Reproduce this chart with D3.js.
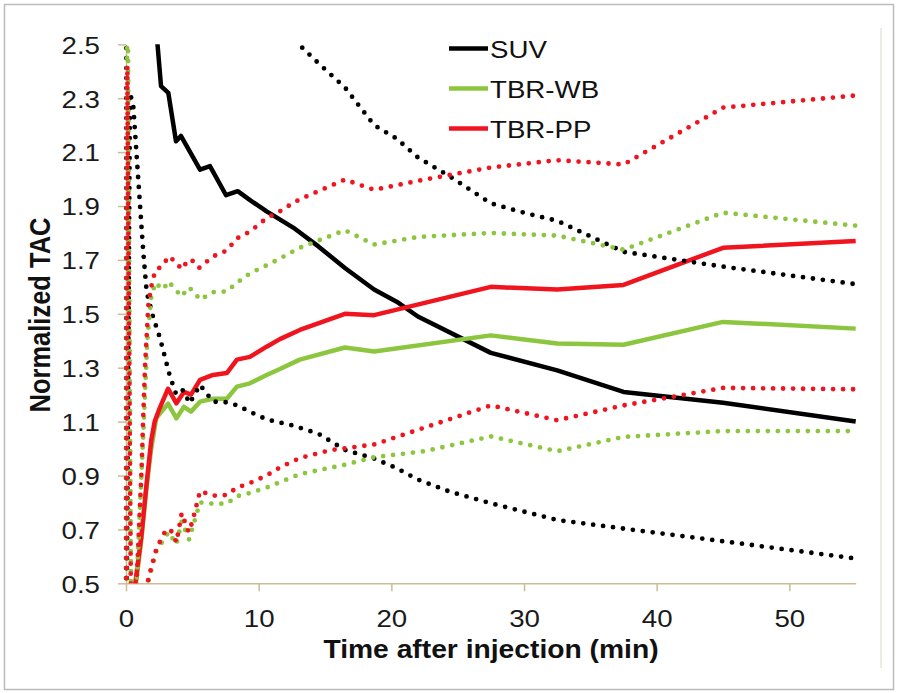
<!DOCTYPE html>
<html><head><meta charset="utf-8">
<script src="https://cdn.jsdelivr.net/npm/d3@7"></script>
<style>body{margin:0;background:#fff}</style>
</head><body><svg id="c" width="899" height="693"></svg>
<script>
// ---- data (time in min, normalized TAC) ----
const xTicks = [0, 10, 20, 30, 40, 50];
const yTicks = [0.5, 0.7, 0.9, 1.1, 1.3, 1.5, 1.7, 1.9, 2.1, 2.3, 2.5];
const legendLabels = ["SUV", "TBR-WB", "TBR-PP"];

const suvMean = [[0.17,9],[2.1,2.66],[2.64,2.345],[3.19,2.32],[3.77,2.14],[4.14,2.16],[5.58,2.035],[6.33,2.048],[7.54,1.94],[8.42,1.955],[9.4,1.92],[10.6,1.88],[12.6,1.82],[14.5,1.75],[16.5,1.67],[18.7,1.59],[20.4,1.545],[22,1.49],[27.5,1.355],[32.5,1.29],[37.5,1.21],[45,1.17],[55,1.10]];
const suvLower = [[0,0],[0.3,2.32],[0.55,2.27],[1.13,1.85],[1.3,1.73],[1.56,1.58],[2.03,1.49],[2.56,1.41],[3.3,1.27],[3.79,1.2],[4.3,1.217],[4.8,1.168],[5.58,1.236],[6.56,1.174],[7.5,1.172],[8.42,1.16],[9.4,1.135],[10.6,1.108],[12.6,1.085],[14.5,1.055],[16.5,0.995],[18.7,0.963],[20.4,0.927],[22,0.885],[24.4,0.84],[27.5,0.797],[32.5,0.735],[37.5,0.703],[45,0.656],[55,0.592]];
const suvUpper = [[0,0],[0.15,12],[2.64,3.2],[5.58,2.84],[8.42,2.72],[10.6,2.62],[12.6,2.52],[14.5,2.43],[16.5,2.34],[18.7,2.2],[20.4,2.15],[22,2.08],[24.4,2.01],[27.5,1.91],[30,1.875],[32.5,1.845],[37.5,1.73],[45,1.675],[55,1.61]];

const wbMean = [[0.3,0.2],[0.7,0.48],[1.15,0.66],[1.53,0.85],[1.9,1.0],[2.28,1.113],[3.17,1.167],[3.8,1.112],[4.37,1.155],[4.9,1.137],[5.58,1.174],[6.56,1.185],[7.6,1.185],[8.36,1.23],[9.34,1.242],[10.6,1.273],[11.6,1.295],[13.1,1.33],[16.5,1.375],[18.7,1.36],[27.5,1.42],[32.5,1.39],[37.5,1.385],[45,1.47],[55,1.445]];
const wbLower = [[0,0],[1.0,0.2],[1.7,0.51],[2.3,0.62],[3.2,0.69],[3.8,0.645],[4.2,0.73],[4.75,0.663],[5.58,0.80],[6.56,0.795],[7.6,0.796],[8.36,0.823],[9.34,0.835],[10.6,0.855],[11.6,0.875],[13.1,0.905],[16.5,0.94],[18.7,0.968],[22.5,0.99],[27.5,1.045],[32.5,0.99],[37.5,1.043],[45,1.065],[55,1.065]];
const wbUpper = [[0,0],[0.1,3.0],[0.4,0.2],[0.8,0.5],[1.3,1.05],[1.6,1.4],[1.9,1.56],[2.2,1.615],[2.8,1.59],[3.2,1.62],[3.72,1.59],[4.2,1.564],[4.7,1.598],[5.05,1.586],[5.58,1.552],[6.56,1.58],[7.6,1.583],[8.36,1.615],[9.34,1.65],[10.6,1.68],[11.6,1.705],[13.1,1.745],[16.5,1.81],[18.7,1.757],[22,1.785],[27.5,1.80],[32.5,1.79],[37.5,1.738],[45,1.875],[55,1.827]];

const ppMean = [[0.3,0.2],[0.7,0.5],[1.15,0.672],[1.53,0.858],[1.9,1.03],[2.16,1.1],[2.5,1.145],[3.17,1.222],[3.8,1.168],[4.37,1.21],[4.9,1.2],[5.58,1.255],[6.56,1.273],[7.6,1.28],[8.36,1.33],[9.34,1.34],[10.6,1.378],[11.6,1.406],[13.1,1.44],[16.5,1.50],[18.7,1.495],[27.5,1.60],[32.5,1.59],[37.5,1.607],[45,1.745],[55,1.77]];
const ppLower = [[0,0],[1.0,0.2],[1.68,0.517],[2.3,0.63],[3.0,0.697],[3.35,0.70],[3.8,0.652],[4.2,0.76],[4.72,0.69],[5.0,0.728],[5.58,0.842],[6.56,0.825],[7.6,0.828],[8.36,0.855],[9.34,0.872],[10.6,0.9],[11.6,0.93],[13.1,0.965],[15.4,0.994],[18.7,1.015],[27.5,1.16],[32.5,1.105],[37.5,1.16],[45,1.225],[55,1.22]];
const ppUpper = [[0,0],[0.1,2.42],[0.4,0.2],[0.8,0.5],[1.18,0.93],[1.3,1.12],[1.43,1.3],[1.68,1.53],[1.9,1.6],[2.2,1.66],[2.8,1.68],[3.2,1.713],[3.7,1.695],[4.2,1.665],[4.7,1.70],[4.95,1.70],[5.5,1.67],[6.56,1.713],[7.6,1.735],[8.36,1.78],[9.34,1.805],[10.6,1.855],[11.6,1.88],[12.4,1.905],[13.1,1.925],[16.5,1.998],[18.7,1.96],[22.5,1.998],[27.5,2.043],[32.5,2.07],[37.5,2.054],[45,2.265],[55,2.31]];

// ---- drawing ----
const BLACK = "#000000", GREEN = "#8cc63f", RED = "#f0141e";
const AXIS = "#c9bd95";
const SX = 1.13;
const FONT = "'Liberation Sans', Arial, sans-serif";

const svg = d3.select("#c");
svg.append("rect").attr("x",4.5).attr("y",4.5).attr("width",889).attr("height",685)
  .attr("fill","#fff").attr("stroke","#bcbcbc").attr("stroke-width",1.5);
svg.append("line").attr("x1",881).attr("x2",881).attr("y1",28).attr("y2",668)
  .attr("stroke","#e4e6d4").attr("stroke-width",1.5);

const x = d3.scaleLinear().domain([0,55]).range([126,855.7]);
const y = d3.scaleLinear().domain([0.5,2.5]).range([583.3,44.3]);

// axes
const gx = svg.append("g").attr("transform","translate(0,583.3)")
  .call(d3.axisBottom(x).tickValues(xTicks).tickSize(8).tickSizeOuter(0).tickFormat(d3.format("d")));
const gy = svg.append("g").attr("transform","translate(126,0)")
  .call(d3.axisLeft(y).tickValues(yTicks).tickSize(8).tickSizeOuter(0).tickFormat(d3.format(".1f")));
[gx, gy].forEach(g => {
  g.select(".domain").attr("stroke",AXIS).attr("stroke-width",1.5);
  g.selectAll(".tick line").attr("stroke",AXIS).attr("stroke-width",1.5);
  g.selectAll(".tick text").attr("font-family",FONT).attr("font-size",24.5).attr("fill","#1a1a1a");
});
gx.selectAll(".tick text").attr("y",0).attr("dy",0).attr("transform",`translate(0,44) scale(${SX},1)`);
gy.selectAll(".tick text").attr("x",0).attr("dy","0.36em").attr("transform",`translate(-26,0) scale(${SX},1)`);

// axis titles
svg.append("text").text("Time after injection (min)")
  .attr("transform",`translate(491,658) scale(${SX},1)`).attr("text-anchor","middle")
  .attr("font-family",FONT).attr("font-weight","bold").attr("font-size",25).attr("fill","#111");
svg.append("text").text("Normalized TAC")
  .attr("transform",`translate(50,315) scale(${SX},1) rotate(-90)`).attr("text-anchor","middle")
  .attr("font-family",FONT).attr("font-weight","bold").attr("font-size",25.5).attr("fill","#111");

// clip
svg.append("clipPath").attr("id","plotclip").append("rect")
  .attr("x",123).attr("y",44.3).attr("width",740).attr("height",539);
const plot = svg.append("g").attr("clip-path","url(#plotclip)");
const line = d3.line().x(d => x(d[0])).y(d => y(d[1]));

const solids = [[suvMean,BLACK],[wbMean,GREEN],[ppMean,RED]];
const dotted = [[suvUpper,BLACK],[suvLower,BLACK],[wbUpper,GREEN],[wbLower,GREEN],[ppUpper,RED],[ppLower,RED]];
solids.forEach(([d,c]) => plot.append("path").datum(d).attr("d",line)
  .attr("fill","none").attr("stroke",c).attr("stroke-width",4.5).attr("stroke-linejoin","round"));
dotted.forEach(([d,c]) => plot.append("path").datum(d).attr("d",line)
  .attr("fill","none").attr("stroke",c).attr("stroke-width",4.8)
  .attr("stroke-linecap","round").attr("stroke-dasharray","0 10"));

// legend
const legColors = [BLACK, GREEN, RED];
legendLabels.forEach((lab,i) => {
  const ly = 48.5 + i*40;
  svg.append("line").attr("x1",449).attr("x2",488).attr("y1",ly).attr("y2",ly)
    .attr("stroke",legColors[i]).attr("stroke-width",4.5);
  svg.append("text").text(lab).attr("transform",`translate(490,${ly+9}) scale(${SX},1)`)
    .attr("font-family",FONT).attr("font-size",24.5).attr("fill","#111");
});
</script></body></html>
